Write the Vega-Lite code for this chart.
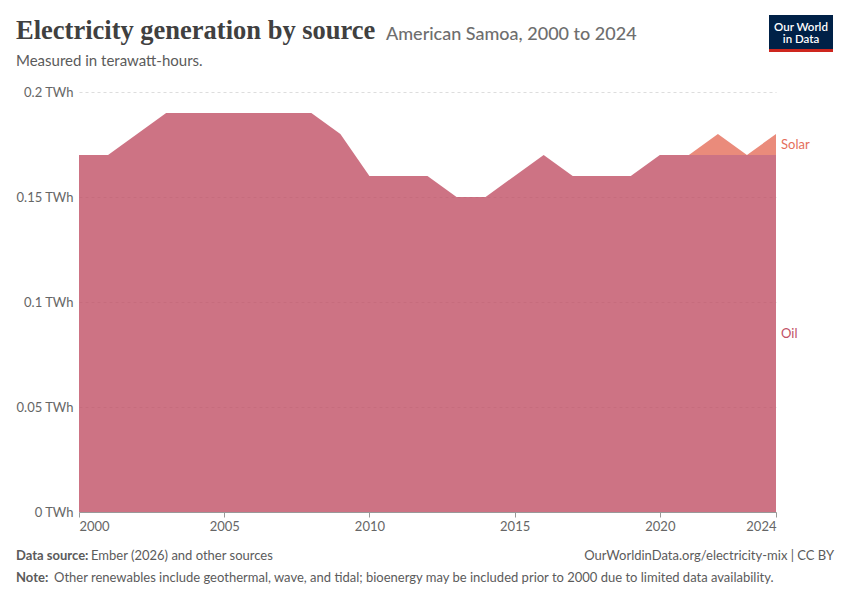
{
  "$schema": "https://vega.github.io/schema/vega-lite/v6.json",
  "description": "Electricity generation by source, American Samoa, 2000 to 2024 (stacked area).",
  "width": 697,
  "height": 420,
  "autosize": {"type": "none"},
  "padding": {"left": 79, "top": 92, "right": 74, "bottom": 88},
  "background": "white",
  "config": {
    "view": {"stroke": null},
    "font": "Lato",
    "axis": {"labelFont": "Lato", "labelFontSize": 13, "labelColor": "#666666"},
    "text": {"font": "Lato", "align": "left", "baseline": "alphabetic"}
  },
  "datasets": {
    "gen": [
      {"year": 2000, "source": "Oil", "twh": 0.17},
      {"year": 2001, "source": "Oil", "twh": 0.17},
      {"year": 2002, "source": "Oil", "twh": 0.18},
      {"year": 2003, "source": "Oil", "twh": 0.19},
      {"year": 2004, "source": "Oil", "twh": 0.19},
      {"year": 2005, "source": "Oil", "twh": 0.19},
      {"year": 2006, "source": "Oil", "twh": 0.19},
      {"year": 2007, "source": "Oil", "twh": 0.19},
      {"year": 2008, "source": "Oil", "twh": 0.19},
      {"year": 2009, "source": "Oil", "twh": 0.18},
      {"year": 2010, "source": "Oil", "twh": 0.16},
      {"year": 2011, "source": "Oil", "twh": 0.16},
      {"year": 2012, "source": "Oil", "twh": 0.16},
      {"year": 2013, "source": "Oil", "twh": 0.15},
      {"year": 2014, "source": "Oil", "twh": 0.15},
      {"year": 2015, "source": "Oil", "twh": 0.16},
      {"year": 2016, "source": "Oil", "twh": 0.17},
      {"year": 2017, "source": "Oil", "twh": 0.16},
      {"year": 2018, "source": "Oil", "twh": 0.16},
      {"year": 2019, "source": "Oil", "twh": 0.16},
      {"year": 2020, "source": "Oil", "twh": 0.17},
      {"year": 2021, "source": "Oil", "twh": 0.17},
      {"year": 2022, "source": "Oil", "twh": 0.17},
      {"year": 2023, "source": "Oil", "twh": 0.17},
      {"year": 2024, "source": "Oil", "twh": 0.17},
      {"year": 2000, "source": "Solar", "twh": 0},
      {"year": 2001, "source": "Solar", "twh": 0},
      {"year": 2002, "source": "Solar", "twh": 0},
      {"year": 2003, "source": "Solar", "twh": 0},
      {"year": 2004, "source": "Solar", "twh": 0},
      {"year": 2005, "source": "Solar", "twh": 0},
      {"year": 2006, "source": "Solar", "twh": 0},
      {"year": 2007, "source": "Solar", "twh": 0},
      {"year": 2008, "source": "Solar", "twh": 0},
      {"year": 2009, "source": "Solar", "twh": 0},
      {"year": 2010, "source": "Solar", "twh": 0},
      {"year": 2011, "source": "Solar", "twh": 0},
      {"year": 2012, "source": "Solar", "twh": 0},
      {"year": 2013, "source": "Solar", "twh": 0},
      {"year": 2014, "source": "Solar", "twh": 0},
      {"year": 2015, "source": "Solar", "twh": 0},
      {"year": 2016, "source": "Solar", "twh": 0},
      {"year": 2017, "source": "Solar", "twh": 0},
      {"year": 2018, "source": "Solar", "twh": 0},
      {"year": 2019, "source": "Solar", "twh": 0},
      {"year": 2020, "source": "Solar", "twh": 0},
      {"year": 2021, "source": "Solar", "twh": 0},
      {"year": 2022, "source": "Solar", "twh": 0.01},
      {"year": 2023, "source": "Solar", "twh": 0},
      {"year": 2024, "source": "Solar", "twh": 0.01}
    ]
  },
  "data": {"name": "gen"},
  "layer": [
    {
      "mark": {"type": "area", "fillOpacity": 0.8},
      "encoding": {
        "x": {
          "field": "year",
          "type": "quantitative",
          "scale": {"domain": [2000, 2024], "nice": false, "zero": false},
          "axis": {
            "title": null,
            "values": [2000, 2005, 2010, 2015, 2020, 2024],
            "format": "d",
            "grid": false,
            "domainColor": "#999999",
            "tickColor": "#999999",
            "tickSize": 5,
            "labelPadding": 3,
            "labelFlush": true
          }
        },
        "y": {
          "field": "twh",
          "type": "quantitative",
          "stack": "zero",
          "scale": {"domain": [0, 0.2], "nice": false},
          "axis": {
            "title": null,
            "values": [0, 0.05, 0.1, 0.15, 0.2],
            "format": "~g",
            "labelExpr": "datum.label + ' TWh'",
            "domain": false,
            "ticks": false,
            "labelPadding": 6,
            "gridColor": "#dddddd",
            "gridDash": [3, 3]
          }
        },
        "color": {
          "field": "source",
          "type": "nominal",
          "scale": {"domain": ["Oil", "Solar"], "range": ["#c15065", "#e56e5a"]},
          "legend": null
        },
        "order": {"field": "source", "sort": "ascending"}
      }
    },
    {
      "transform": [
        {"filter": "datum.year == 2024"},
        {"stack": "twh", "groupby": ["year"], "sort": [{"field": "source"}], "as": ["lo", "hi"]},
        {"calculate": "(datum.lo + datum.hi) / 2", "as": "mid"}
      ],
      "mark": {"type": "text", "baseline": "middle", "dx": 5, "fontSize": 13},
      "encoding": {
        "x": {"field": "year", "type": "quantitative"},
        "y": {"field": "mid", "type": "quantitative"},
        "text": {"field": "source"},
        "color": {"field": "source", "type": "nominal", "legend": null}
      }
    },
    {
      "data": {"values": [{"text": "Electricity generation by source"}]},
      "mark": {"type": "text", "font": "Liberation Serif", "fontSize": 26.5, "fontWeight": "bold", "color": "#404040"},
      "encoding": {"x": {"value": -63}, "y": {"value": -53}, "text": {"field": "text"}}
    },
    {
      "data": {"values": [{"text": "American Samoa, 2000 to 2024"}]},
      "mark": {"type": "text", "fontSize": 18, "fontWeight": 500, "color": "#6e6e6e"},
      "encoding": {"x": {"value": 307}, "y": {"value": -52}, "text": {"field": "text"}}
    },
    {
      "data": {"values": [{"text": "Measured in terawatt-hours."}]},
      "mark": {"type": "text", "fontSize": 15, "color": "#5b5b5b"},
      "encoding": {"x": {"value": -63}, "y": {"value": -26}, "text": {"field": "text"}}
    },
    {
      "data": {"values": [{"part": "logo"}]},
      "mark": {"type": "rect", "color": "#002147"},
      "encoding": {"x": {"value": 690}, "x2": {"value": 754}, "y": {"value": -77}, "y2": {"value": -43}}
    },
    {
      "data": {"values": [{"part": "logo strip"}]},
      "mark": {"type": "rect", "color": "#ce261e"},
      "encoding": {"x": {"value": 690}, "x2": {"value": 754}, "y": {"value": -43}, "y2": {"value": -40}}
    },
    {
      "data": {"values": [{"text": "Our World"}]},
      "mark": {"type": "text", "align": "center", "fontSize": 11.5, "fontWeight": 600, "color": "white"},
      "encoding": {"x": {"value": 722}, "y": {"value": -61.5}, "text": {"field": "text"}}
    },
    {
      "data": {"values": [{"text": "in Data"}]},
      "mark": {"type": "text", "align": "center", "fontSize": 11.5, "fontWeight": 600, "color": "white"},
      "encoding": {"x": {"value": 722}, "y": {"value": -49.5}, "text": {"field": "text"}}
    },
    {
      "data": {"values": [{"text": "Data source:"}]},
      "mark": {"type": "text", "fontSize": 13, "fontWeight": "bold", "color": "#5b5b5b"},
      "encoding": {"x": {"value": -63}, "y": {"value": 468}, "text": {"field": "text"}}
    },
    {
      "data": {"values": [{"text": "Ember (2026) and other sources"}]},
      "mark": {"type": "text", "fontSize": 13, "color": "#5b5b5b"},
      "encoding": {"x": {"value": 12}, "y": {"value": 468}, "text": {"field": "text"}}
    },
    {
      "data": {"values": [{"text": "OurWorldinData.org/electricity-mix | CC BY"}]},
      "mark": {"type": "text", "align": "right", "fontSize": 13, "color": "#5b5b5b"},
      "encoding": {"x": {"value": 755}, "y": {"value": 468}, "text": {"field": "text"}}
    },
    {
      "data": {"values": [{"text": "Note:"}]},
      "mark": {"type": "text", "fontSize": 13, "fontWeight": "bold", "color": "#5b5b5b"},
      "encoding": {"x": {"value": -63}, "y": {"value": 490}, "text": {"field": "text"}}
    },
    {
      "data": {"values": [{"text": "Other renewables include geothermal, wave, and tidal; bioenergy may be included prior to 2000 due to limited data availability."}]},
      "mark": {"type": "text", "fontSize": 13, "color": "#5b5b5b"},
      "encoding": {"x": {"value": -25}, "y": {"value": 490}, "text": {"field": "text"}}
    }
  ]
}
